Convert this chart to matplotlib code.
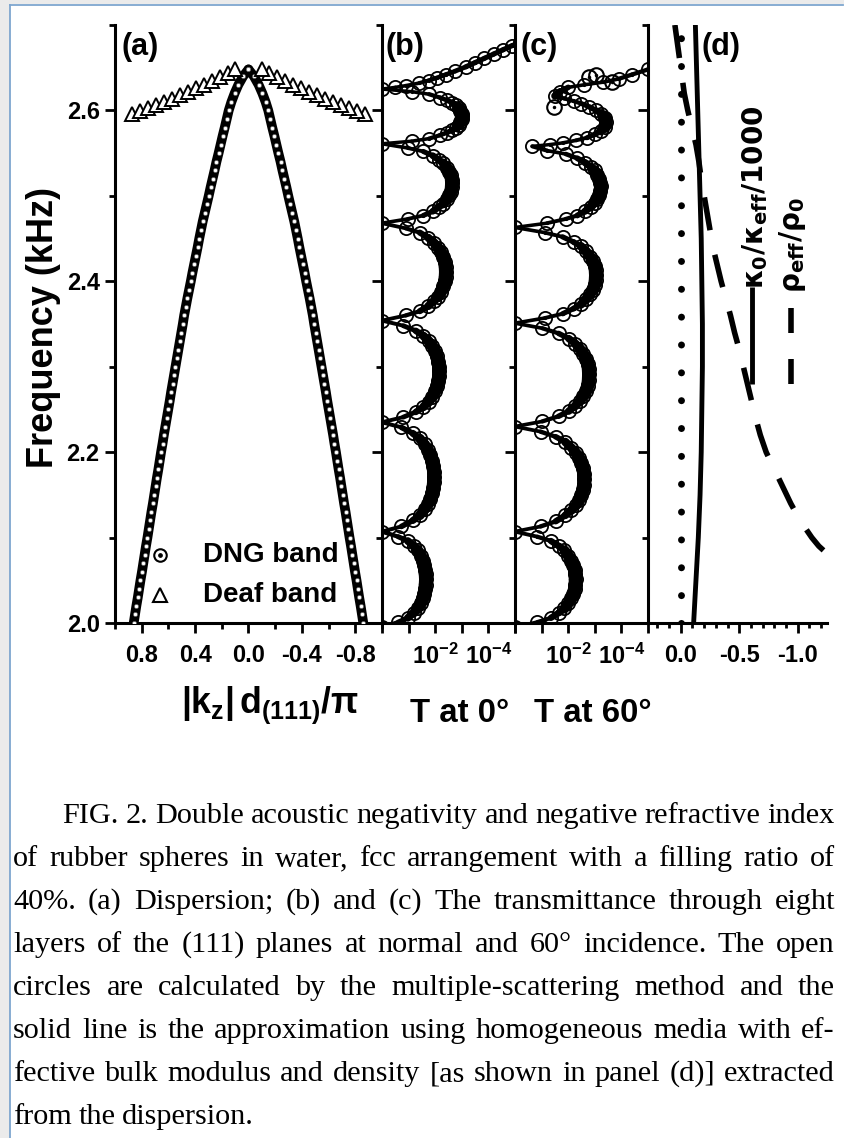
import numpy as np
import matplotlib
matplotlib.use("Agg")
import matplotlib.pyplot as plt
from matplotlib import font_manager
from matplotlib.lines import Line2D
from matplotlib.patches import Rectangle
from matplotlib.collections import LineCollection
from matplotlib.ticker import FixedLocator, FixedFormatter, NullLocator

W, H = 845, 1138

# ---------------------------------------------------------------- data
# (a) dispersion along (111): frequency (kHz) vs |k_z| d(111)/pi
dng_freq = [2.00, 2.01, 2.02, 2.03, 2.04, 2.05, 2.06, 2.07, 2.08, 2.09,
            2.10, 2.11, 2.12, 2.13, 2.14, 2.15, 2.16, 2.17, 2.18, 2.19,
            2.20, 2.21, 2.22, 2.23, 2.24, 2.25, 2.26, 2.27, 2.28, 2.29,
            2.30, 2.31, 2.32, 2.33, 2.34, 2.35, 2.36, 2.37, 2.38, 2.39,
            2.40, 2.41, 2.42, 2.43, 2.44, 2.45, 2.46, 2.47, 2.48, 2.49,
            2.50, 2.51, 2.52, 2.53, 2.54, 2.55, 2.56, 2.57, 2.58, 2.59,
            2.60, 2.61, 2.62, 2.63, 2.64, 2.648]
dng_k = [0.860, 0.850, 0.840, 0.829, 0.819, 0.809, 0.798, 0.788, 0.778, 0.768,
         0.757, 0.747, 0.737, 0.727, 0.716, 0.706, 0.696, 0.686, 0.675, 0.665,
         0.655, 0.644, 0.634, 0.623, 0.612, 0.601, 0.590, 0.580, 0.569, 0.558,
         0.547, 0.536, 0.525, 0.514, 0.503, 0.492, 0.482, 0.470, 0.458, 0.445,
         0.432, 0.420, 0.407, 0.394, 0.381, 0.369, 0.356, 0.343, 0.328, 0.313,
         0.298, 0.284, 0.269, 0.254, 0.240, 0.224, 0.209, 0.194, 0.178, 0.163,
         0.148, 0.128, 0.104, 0.076, 0.040, 0.000]
deaf_freq = [2.5955, 2.599, 2.6025, 2.606, 2.610, 2.6135, 2.6175, 2.6215,
             2.626, 2.630, 2.635, 2.639, 2.644, 2.648]
deaf_k = [0.87, 0.81, 0.75, 0.69, 0.63, 0.57, 0.51, 0.45, 0.39, 0.33,
          0.27, 0.21, 0.155, 0.10]

# (b) transmittance at normal incidence: frequency (kHz), log10 T
b_freq = [1.995, 2.001, 2.006, 2.012, 2.017, 2.023, 2.029, 2.034, 2.040, 2.045,
          2.051, 2.057, 2.062, 2.068, 2.073, 2.079, 2.085, 2.090, 2.096, 2.101, 2.107,
          2.113, 2.120, 2.126, 2.133, 2.139, 2.145, 2.152, 2.158, 2.165, 2.171,
          2.177, 2.184, 2.190, 2.197, 2.203, 2.209, 2.216, 2.222, 2.229, 2.235,
          2.241, 2.247, 2.253, 2.259, 2.265, 2.271, 2.277, 2.283, 2.289, 2.295,
          2.300, 2.306, 2.312, 2.318, 2.324, 2.330, 2.336, 2.342, 2.348, 2.354,
          2.360, 2.365, 2.371, 2.377, 2.382, 2.388, 2.394, 2.400, 2.405, 2.411,
          2.417, 2.422, 2.428, 2.434, 2.439, 2.445, 2.451, 2.457, 2.462, 2.468,
          2.473, 2.477, 2.482, 2.487, 2.491, 2.496, 2.501, 2.505, 2.510, 2.515,
          2.519, 2.524, 2.528, 2.533, 2.538, 2.542, 2.547, 2.552, 2.556, 2.561,
          2.564, 2.567, 2.571, 2.574, 2.577, 2.580, 2.583, 2.587, 2.590, 2.593,
          2.596, 2.599, 2.603, 2.606, 2.609, 2.612, 2.615, 2.619, 2.622, 2.625,
          2.627, 2.629, 2.632, 2.635, 2.638, 2.642, 2.646, 2.651, 2.656, 2.661,
          2.666, 2.671, 2.676, 2.680]
b_logT = [0.00, -0.61, -0.97, -1.20, -1.34, -1.45, -1.53, -1.58, -1.62, -1.64,
          -1.65, -1.64, -1.62, -1.58, -1.53, -1.45, -1.34, -1.20, -0.97, -0.61, 0.00,
          -0.73, -1.16, -1.42, -1.60, -1.72, -1.82, -1.88, -1.93, -1.95, -1.96,
          -1.95, -1.93, -1.88, -1.82, -1.72, -1.60, -1.42, -1.16, -0.73, 0.00,
          -0.80, -1.27, -1.56, -1.75, -1.89, -1.99, -2.06, -2.11, -2.14, -2.15,
          -2.14, -2.11, -2.06, -1.99, -1.89, -1.75, -1.56, -1.27, -0.80, 0.00,
          -0.89, -1.42, -1.74, -1.95, -2.11, -2.22, -2.30, -2.36, -2.39, -2.40,
          -2.39, -2.36, -2.30, -2.22, -2.11, -1.95, -1.74, -1.42, -0.89, 0.00,
          -0.97, -1.55, -1.91, -2.14, -2.31, -2.44, -2.52, -2.58, -2.62, -2.63,
          -2.62, -2.58, -2.52, -2.44, -2.31, -2.14, -1.91, -1.55, -0.97, 0.00,
          -1.11, -1.77, -2.18, -2.44, -2.64, -2.78, -2.88, -2.95, -2.99, -3.00,
          -2.99, -2.95, -2.88, -2.78, -2.64, -2.44, -2.18, -1.77, -1.11, 0.00,
          -0.50, -0.90, -1.40, -1.75, -2.05, -2.40, -2.75, -3.15, -3.50, -3.85,
          -4.20, -4.55, -4.90, -5.20]

# (c) transmittance at 60 degree incidence: frequency (kHz), log10 T
c_freq = [1.995, 2.001, 2.006, 2.012, 2.017, 2.023, 2.029, 2.034, 2.040, 2.045,
          2.051, 2.057, 2.062, 2.068, 2.073, 2.079, 2.085, 2.090, 2.096, 2.101, 2.107,
          2.113, 2.119, 2.126, 2.132, 2.138, 2.144, 2.150, 2.156, 2.162, 2.169,
          2.175, 2.181, 2.187, 2.193, 2.199, 2.205, 2.212, 2.218, 2.224, 2.230,
          2.236, 2.242, 2.248, 2.254, 2.260, 2.266, 2.272, 2.278, 2.284, 2.291,
          2.297, 2.303, 2.309, 2.315, 2.321, 2.327, 2.333, 2.339, 2.345, 2.351,
          2.357, 2.362, 2.368, 2.373, 2.379, 2.385, 2.390, 2.396, 2.401, 2.407,
          2.413, 2.418, 2.424, 2.429, 2.435, 2.441, 2.446, 2.452, 2.457, 2.463,
          2.468, 2.473, 2.477, 2.482, 2.487, 2.492, 2.496, 2.501, 2.506, 2.511,
          2.515, 2.520, 2.525, 2.530, 2.534, 2.539, 2.544, 2.549, 2.553, 2.558,
          2.560, 2.562, 2.565, 2.568, 2.572, 2.576, 2.581, 2.586, 2.591, 2.596,
          2.600, 2.604, 2.608, 2.611, 2.614, 2.617,
          2.622, 2.627, 2.630, 2.633, 2.637, 2.642, 2.648, 2.652]
c_logT = [0.00, -0.84, -1.35, -1.65, -1.86, -2.00, -2.11, -2.19, -2.24, -2.27,
          -2.28, -2.27, -2.24, -2.19, -2.11, -2.00, -1.86, -1.65, -1.35, -0.84, 0.00,
          -0.96, -1.53, -1.89, -2.12, -2.29, -2.41, -2.49, -2.55, -2.59, -2.60,
          -2.59, -2.55, -2.49, -2.41, -2.29, -2.12, -1.89, -1.53, -0.96, 0.00,
          -1.03, -1.64, -2.02, -2.26, -2.44, -2.57, -2.67, -2.73, -2.77, -2.78,
          -2.77, -2.73, -2.67, -2.57, -2.44, -2.26, -2.02, -1.64, -1.03, 0.00,
          -1.12, -1.79, -2.20, -2.48, -2.67, -2.82, -2.92, -2.99, -3.03, -3.04,
          -3.03, -2.99, -2.92, -2.82, -2.67, -2.48, -2.20, -1.79, -1.12, 0.00,
          -1.20, -1.91, -2.34, -2.63, -2.84, -2.99, -3.10, -3.17, -3.21, -3.23,
          -3.21, -3.17, -3.10, -2.99, -2.84, -2.63, -2.34, -1.91, -1.20, -0.65,
          -1.30, -1.80, -2.30, -2.70, -3.00, -3.22, -3.37, -3.42, -3.38, -3.25,
          -3.05, -2.80, -2.50, -2.20, -1.85, -1.50,
          -1.70, -2.00, -2.60, -3.30, -3.90, -4.40, -5.00, -5.40]
c_extra_freq = [2.604, 2.642, 2.639, 2.633]
c_extra_logT = [-1.47, -3.05, -2.80, -3.66]

# (d) effective parameters
kappa_freq = [2.00, 2.05, 2.10, 2.15, 2.20, 2.25, 2.30, 2.35, 2.40, 2.45,
              2.50, 2.55, 2.60, 2.65, 2.70]
kappa_ratio = [-0.11, -0.13, -0.15, -0.165, -0.175, -0.18, -0.185, -0.185, -0.18,
               -0.175, -0.165, -0.155, -0.145, -0.135, -0.125]
rho_freq = [2.70, 2.68, 2.66, 2.64, 2.62, 2.60, 2.58, 2.56, 2.54, 2.52,
            2.50, 2.48, 2.46, 2.44, 2.42, 2.40, 2.38, 2.36, 2.34, 2.32,
            2.30, 2.28, 2.26, 2.24, 2.22, 2.20, 2.18, 2.16, 2.14, 2.12,
            2.10, 2.09, 2.085]
rho_ratio = [0.05, 0.03, 0.01, -0.01, -0.03, -0.06, -0.095, -0.13, -0.155, -0.175,
             -0.20, -0.225, -0.25, -0.275, -0.31, -0.345, -0.385, -0.425, -0.46, -0.50,
             -0.535, -0.57, -0.605, -0.64, -0.68, -0.73, -0.80, -0.87, -0.94, -1.02,
             -1.12, -1.18, -1.22]

# ticks
freq_ticks = [2.0, 2.2, 2.4, 2.6]
freq_minor = [2.1, 2.3, 2.5, 2.7]
freq_labels = ["2.0", "2.2", "2.4", "2.6"]
k_ticks = [0.8, 0.4, 0.0, -0.4, -0.8]
k_minor = [1.0, 0.6, 0.2, -0.2, -0.6, -1.0]
k_labels = ["0.8", "0.4", "0.0", "-0.4", "-0.8"]
T_ticks = [1.0, 1e-1, 1e-2, 1e-3, 1e-4, 1e-5]
T_labels = ["", "", r"$10^{-2}$", "", r"$10^{-4}$", ""]
d_ticks = [0.0, -0.5, -1.0]
d_minor = [0.2, 0.1, -0.1, -0.2, -0.3, -0.4, -0.6, -0.7, -0.8, -0.9, -1.1, -1.2]
d_labels = ["0.0", "-0.5", "-1.0"]

caption = [
    "FIG. 2. Double acoustic negativity and negative refractive index",
    "of rubber spheres in water, fcc arrangement with a filling ratio of",
    "40%. (a) Dispersion; (b) and (c) The transmittance through eight",
    "layers of the (111) planes at normal and 60\u00b0 incidence. The open",
    "circles are calculated by the multiple-scattering method and the",
    "solid line is the approximation using homogeneous media with ef-",
    "fective bulk modulus and density [as shown in panel (d)] extracted",
    "from the dispersion.",
]

# ---------------------------------------------------------------- fonts
names = {f.name for f in font_manager.fontManager.ttflist}
if "Liberation Sans Narrow" in names:
    NARROW, NSCALE = "Liberation Sans Narrow", 1.0
else:
    NARROW, NSCALE = "Liberation Sans", 0.95
REG = "Liberation Sans"

plt.rcParams["font.family"] = [NARROW, "DejaVu Sans"]
plt.rcParams["font.weight"] = "bold"
plt.rcParams["mathtext.fontset"] = "custom"
for key in ("rm", "it", "bf", "sf"):
    plt.rcParams["mathtext." + key] = NARROW + ":bold"

TICK_FS = 17 if NSCALE < 1 else 19
LAB_FS = 27 * NSCALE
T_FS = 25 * NSCALE

fig = plt.figure(figsize=(W / 100, H / 100), dpi=100)
fig.patch.set_facecolor("white")

# page margin and frame line
fig.add_artist(Rectangle((0, 0), 10 / W, 1, transform=fig.transFigure,
                         facecolor="#ebebeb", edgecolor="none", zorder=0))
fig.add_artist(Rectangle((0, 1 - 4 / H), 1, 4 / H, transform=fig.transFigure,
                         facecolor="#ebebeb", edgecolor="none", zorder=0))
fig.add_artist(Line2D([10.5 / W, 10.5 / W], [0, 1 - 4.5 / H], transform=fig.transFigure,
                      color="#7ea6cf", lw=1.3))
fig.add_artist(Line2D([10 / W, 843 / W], [1 - 4.5 / H, 1 - 4.5 / H], transform=fig.transFigure,
                      color="#7ea6cf", lw=1.3))


def px_axes(x0, x1, y0=25, y1=623):
    return fig.add_axes([x0 / W, 1 - y1 / H, (x1 - x0) / W, (y1 - y0) / H])


ax_a = px_axes(115, 382)
ax_b = px_axes(382, 515)
ax_c = px_axes(515, 648)
ax_d = px_axes(648, 827)
axes = [ax_a, ax_b, ax_c, ax_d]

for ax in axes:
    ax.set_facecolor("none")
    ax.set_ylim(2.0, 2.7)
    ax.yaxis.set_major_locator(FixedLocator(freq_ticks))
    ax.yaxis.set_minor_locator(FixedLocator(freq_minor))
    ax.spines["top"].set_visible(False)
    ax.spines["right"].set_visible(False)
    ax.spines["left"].set_linewidth(2.2)
    ax.spines["bottom"].set_linewidth(2.2)
    ax.tick_params(which="both", direction="out", width=2.0, labelsize=TICK_FS, colors="black")
    ax.tick_params(which="major", length=7)
    ax.tick_params(which="minor", length=4.5)
    ax.tick_params(axis="x", which="major", pad=8)
    ax.tick_params(axis="y", which="major", pad=4)
    if ax is ax_a:
        ax.yaxis.set_major_formatter(FixedFormatter(freq_labels))
    else:
        ax.tick_params(axis="y", which="both", labelleft=False)


def ring_dot(ax, x, y, ms, mew=1.3, z=3):
    ax.plot(x, y, ls="none", marker="o", ms=ms, mfc="none", mec="black", mew=mew, zorder=z)
    ax.plot(x, y, ls="none", marker="o", ms=ms * 0.24, mfc="black", mec="black", mew=0, zorder=z)


def swept_line(ax, x, y, lw_min, lw_extra):
    """Curve drawn as segments whose width grows where the trace runs vertically."""
    pts = np.column_stack([x, y])
    disp = ax.transData.transform(pts)
    d = np.diff(disp, axis=0)
    vert = np.abs(d[:, 1]) / np.maximum(np.hypot(d[:, 0], d[:, 1]), 1e-9)
    segs = np.stack([pts[:-1], pts[1:]], axis=1)
    lc = LineCollection(segs, colors="black", linewidths=lw_min + lw_extra * vert ** 2,
                        capstyle="round", joinstyle="round", zorder=2)
    ax.add_collection(lc)


# ---------------------------------------------------------------- (a)
ax_a.set_xlim(1.0, -1.0)
ax_a.xaxis.set_major_locator(FixedLocator(k_ticks))
ax_a.xaxis.set_minor_locator(FixedLocator(k_minor))
ax_a.xaxis.set_major_formatter(FixedFormatter(k_labels))
kk = np.array(dng_k)
kd = np.array(deaf_k)
for sgn in (1, -1):
    ax_a.plot(sgn * kk, dng_freq, color="black", lw=7.0, solid_capstyle="round", zorder=2)
    ax_a.plot(sgn * kk, dng_freq, ls="none", marker="o", ms=3.0, mfc="white",
              mec="#555555", mew=0.5, zorder=3)
    ax_a.plot(sgn * kd, deaf_freq, ls="none", marker="^", ms=9.5, mfc="white",
              mec="black", mew=1.4, zorder=4)

# legend
ax_a.plot([0.169], [0.114], transform=ax_a.transAxes, ls="none", marker="o", ms=9,
          mfc="none", mec="black", mew=1.5, clip_on=False)
ax_a.plot([0.169], [0.114], transform=ax_a.transAxes, ls="none", marker="o", ms=2.4,
          mfc="black", mec="black", clip_on=False)
ax_a.plot([0.169], [0.047], transform=ax_a.transAxes, ls="none", marker="^", ms=10,
          mfc="white", mec="black", mew=1.5, clip_on=False)
ax_a.text(0.33, 0.114, "DNG band", transform=ax_a.transAxes, family=REG,
          fontsize=20, va="center", ha="left")
ax_a.text(0.33, 0.047, "Deaf band", transform=ax_a.transAxes, family=REG,
          fontsize=20, va="center", ha="left")

# ---------------------------------------------------------------- (b), (c)
for ax, fr, lt in ((ax_b, b_freq, b_logT), (ax_c, c_freq, c_logT)):
    ax.set_xscale("log")
    ax.set_xlim(1.0, 1e-5)
    ax.xaxis.set_major_locator(FixedLocator(T_ticks))
    ax.xaxis.set_major_formatter(FixedFormatter(T_labels))
    ax.xaxis.set_minor_locator(NullLocator())
    T = 10.0 ** np.array(lt)
    swept_line(ax, T, fr, 2.4, 7.5)
    ring_dot(ax, T, fr, ms=9.5, mew=1.3)
ring_dot(ax_c, 10.0 ** np.array(c_extra_logT), c_extra_freq, ms=10.5, mew=1.5)

# ---------------------------------------------------------------- (d)
ax_d.set_xlim(0.28, -1.25)
ax_d.xaxis.set_major_locator(FixedLocator(d_ticks))
ax_d.xaxis.set_minor_locator(FixedLocator(d_minor))
ax_d.xaxis.set_major_formatter(FixedFormatter(d_labels))
ax_d.tick_params(axis="x", which="minor", length=3.5)
ax_d.axvline(0.0, color="black", lw=5.0, ls=(0, (0.01, 4.0)),
             dash_capstyle="round", zorder=2)
ax_d.plot(kappa_ratio, kappa_freq, color="black", lw=3.5, zorder=3)
ax_d.plot(rho_ratio, rho_freq, color="black", lw=4.0, ls=(0, (6.0, 4.5)), zorder=3)

# legend of (d), written vertically
ax_d.plot([0.581, 0.581], [0.562, 0.400], transform=ax_d.transAxes, color="black",
          lw=3.5, solid_capstyle="butt")
ax_d.plot([0.799, 0.799], [0.527, 0.485], transform=ax_d.transAxes, color="black",
          lw=4.0, solid_capstyle="butt")
ax_d.plot([0.799, 0.799], [0.441, 0.400], transform=ax_d.transAxes, color="black",
          lw=4.0, solid_capstyle="butt")
ax_d.text(0.60, 0.558, r"$\mathbf{\kappa_0/\kappa_{eff}/1000}$", transform=ax_d.transAxes,
          rotation=90, ha="center", va="bottom", fontsize=20, math_fontfamily="dejavusans")
ax_d.text(0.805, 0.552, r"$\mathbf{\rho_{eff}/\rho_0}$", transform=ax_d.transAxes,
          rotation=90, ha="center", va="bottom", fontsize=20, math_fontfamily="dejavusans")

# panel tags
for ax, tag, xf in ((ax_a, "(a)", 0.026), (ax_b, "(b)", 0.03),
                    (ax_c, "(c)", 0.04), (ax_d, "(d)", 0.30)):
    ax.text(xf, 0.988, tag, transform=ax.transAxes, family=REG, fontsize=22,
            ha="left", va="top")

# axis titles
fig.text(44 / W, 1 - 328 / H, "Frequency (kHz)", rotation=90, family=REG,
         fontsize=26, ha="center", va="center")
fig.text(270 / W, 1 - 713 / H, r"$|k_z|\,d_{(111)}/\pi$", fontsize=LAB_FS,
         ha="center", va="baseline")
fig.text(460 / W, 1 - 722 / H, "T at 0\u00b0", fontsize=T_FS, ha="center", va="baseline")
fig.text(593 / W, 1 - 722 / H, "T at 60\u00b0", fontsize=T_FS, ha="center", va="baseline")

# ---------------------------------------------------------------- caption (justified)
renderer = fig.canvas.get_renderer()
SERIF = "Liberation Serif"


def widths(words, fs):
    out = []
    for w in words:
        t = fig.text(0, 0, w, fontsize=fs, family=SERIF, weight="normal")
        out.append(t.get_window_extent(renderer).width)
        t.remove()
    return out


x_right = 835
lefts = [62] + [13] * (len(caption) - 1)
base_y = 823
step = 43.0
cap_fs = 22.0
space = lambda fs: 0.22 * fs * 100 / 72
ratio = 0
for i, line in enumerate(caption[:-1]):
    ws = widths(line.split(" "), cap_fs)
    nat = sum(ws) + (len(ws) - 1) * space(cap_fs)
    ratio = max(ratio, nat / (x_right - lefts[i]))
if ratio > 0.995:
    cap_fs *= 0.995 / ratio

for i, line in enumerate(caption):
    words = line.split(" ")
    ws = widths(words, cap_fs)
    last = i == len(caption) - 1
    gap = space(cap_fs) if last else (x_right - lefts[i] - sum(ws)) / (len(words) - 1)
    x = lefts[i]
    y = base_y + i * step
    for w, wd in zip(words, ws):
        fig.text(x / W, 1 - y / H, w, fontsize=cap_fs, family=SERIF, weight="normal",
                 ha="left", va="baseline")
        x += wd + gap

fig.savefig("out.png", dpi=100)
